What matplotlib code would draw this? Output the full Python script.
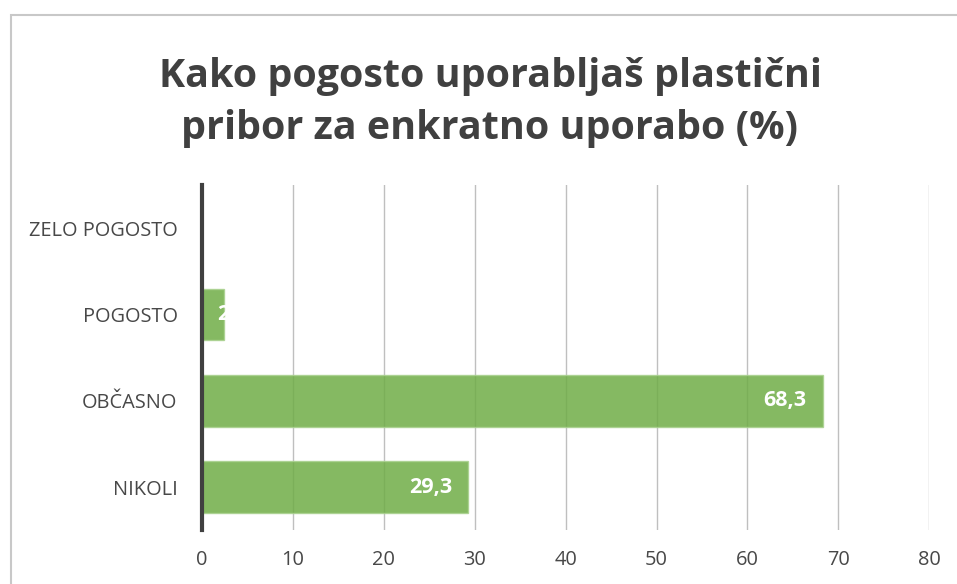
import matplotlib.pyplot as plt
from matplotlib.patches import Rectangle

# data
categories = ['NIKOLI', 'OBČASNO', 'POGOSTO', 'ZELO POGOSTO']
values = [29.3, 68.3, 2.4, 0.0]
value_labels = ['29,3', '68,3', '2,4', '']
xticks = [0, 10, 20, 30, 40, 50, 60, 70, 80]
title = 'Kako pogosto uporabljaš plastični\npribor za enkratno uporabo (%)'

plt.rcParams['font.family'] = ['Open Sans', 'DejaVu Sans']

fig = plt.figure(figsize=(9.57, 5.84), dpi=100)
ax = fig.add_axes([0.211, 0.092, 0.760, 0.591])

# chart frame (light grey border, runs off the right/bottom)
fig.patches.append(Rectangle((0.011, -0.05), 1.1, 1.024, transform=fig.transFigure,
                             fill=False, edgecolor='#C8C8C8', linewidth=1.5))

ypos = range(len(categories))
bars = ax.barh(ypos, values, height=0.6, color='#70AD47', alpha=0.85,
               edgecolor='#A9D18E', linewidth=1, zorder=3)

# value labels inside the bar end, white bold
for bar, v, lab in zip(bars, values, value_labels):
    if not lab:
        continue
    yc = bar.get_y() + bar.get_height() / 2
    if v > 5:
        ax.text(v - 1.8, yc, lab, ha='right', va='center', color='white',
                fontsize=15.5, fontweight='bold', zorder=4)
    else:
        t = ax.text(v - 0.7, yc, lab, ha='left', va='center', color='white',
                    fontsize=15.5, fontweight='bold', zorder=4)
        t.set_clip_path(bar)

ax.set_xlim(0, 80)
ax.set_ylim(-0.5, len(categories) - 0.5)
ax.set_xticks(xticks)
ax.set_xticklabels([str(x) for x in xticks])
ax.set_yticks(list(ypos))
ax.set_yticklabels(categories)
ax.tick_params(axis='both', length=0, labelsize=14.4, labelcolor='#484848')
ax.tick_params(axis='y', pad=17.5)
ax.tick_params(axis='x', pad=14)

ax.xaxis.grid(True, color='#BFBFBF', linewidth=1, zorder=0)
ax.set_axisbelow(True)
for s in ['top', 'right', 'bottom']:
    ax.spines[s].set_visible(False)
ax.spines['left'].set_color('#404040')
ax.spines['left'].set_linewidth(3)
ax.spines['left'].set_zorder(5)

fig.text(0.512, 0.824, title, ha='center', va='center', fontsize=28.4,
         fontweight='bold', color='#404040', linespacing=1.42)

fig.savefig('out.png', dpi=100)
